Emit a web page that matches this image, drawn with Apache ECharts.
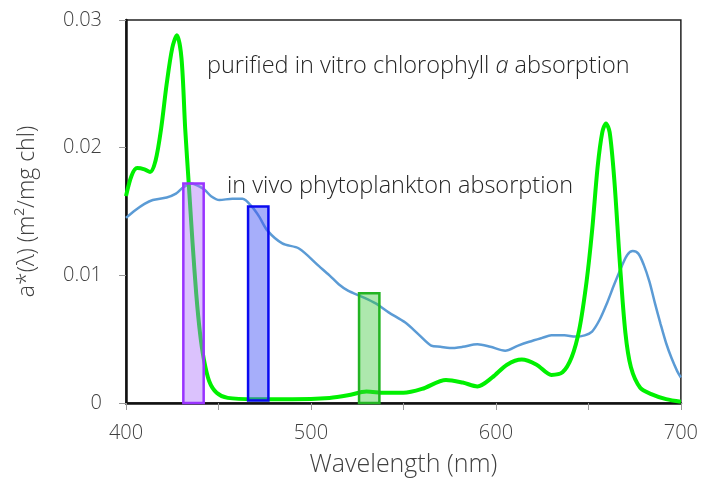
<!DOCTYPE html>
<html><head><meta charset="utf-8">
<script src="https://cdn.jsdelivr.net/npm/echarts@6/dist/echarts.min.js"></script>
<style>html,body{margin:0;padding:0;background:#fff}#c{width:701px;height:485px}</style>
</head><body><div id="c"></div>
<script>
// Wavelength (nm) / value pairs
const vitroWl  = [400,403,406,410,413,416,419,422,425,427.5,430,432,434,436,438,440,442,445,449,455,470,490,510,520,530,540,550,560,573,582,590,598,606,614,622,630,636,641,645,649,652,655,657.5,659.5,661.5,664,667,670,673,678,684,692,700];
const vitroVal = [0.0162,0.0178,0.0184,0.0183,0.0181,0.0190,0.0215,0.0250,0.0278,0.0288,0.0270,0.0215,0.0170,0.0125,0.0085,0.0055,0.0035,0.0017,0.0008,0.0004,0.0003,0.0003,0.0004,0.0006,0.0009,0.0008,0.0008,0.0011,0.0018,0.0016,0.0013,0.0020,0.0030,0.0034,0.0030,0.0022,0.0024,0.0036,0.0057,0.0095,0.0135,0.0185,0.0212,0.0219,0.0212,0.0175,0.0110,0.0055,0.0028,0.0012,0.0007,0.0003,0.0001];
const vivoWl  = [400,405,410,414.5,422,427,431,435.5,439,442.5,446,450.5,457.5,463,468.5,472,476.5,484.5,493.5,504.5,510,515,520,528,535,542,551,558,565,570,575,582,590,597,605,612,618,625,630,637,643,648,652,656,660,664,668,671,674,677,680,683,686,689,692,695,698,700];
const vivoVal = [0.0145,0.0151,0.0156,0.0159,0.0161,0.0164,0.0169,0.0172,0.0170,0.0167,0.0162,0.0159,0.0160,0.0160,0.0153,0.0146,0.0135,0.0125,0.0121,0.0107,0.0100,0.0093,0.0088,0.0083,0.0078,0.0071,0.0063,0.0054,0.0045,0.0044,0.0043,0.0044,0.0046,0.0044,0.0041,0.0045,0.0048,0.0051,0.0053,0.0053,0.0052,0.0053,0.0056,0.0065,0.0078,0.0093,0.0107,0.0116,0.0119,0.0117,0.0108,0.0095,0.0078,0.0062,0.0047,0.0035,0.0025,0.0020];
// Highlight bands: [startWl, endWl, bottom, top]
const bandPurple = [431, 442, 0, 0.0172];
const bandBlue   = [466, 477, 0.0002, 0.0154];
const bandGreen  = [526, 537, 0, 0.0086];
const yTicks = [0, 0.01, 0.02, 0.03];
const xTicks = [400, 500, 600, 700];

const FONT = '"Open Sans", "Noto Sans", sans-serif';
const chart = echarts.init(document.getElementById('c'));
const pairs = (a, b) => a.map((x, i) => [x, b[i]]);
const bands = [
  {v: bandPurple, fill: 'rgba(170,110,250,0.42)', stroke: '#9933ff'},
  {v: bandBlue, fill: 'rgba(70,85,245,0.48)', stroke: '#0a0af0'},
  {v: bandGreen, fill: 'rgba(60,200,60,0.42)', stroke: '#22b422'}
];
chart.setOption({
  animation: false,
  grid: {left: 126, right: 18, top: 20, bottom: 82, show: true, borderColor: '#222', borderWidth: 1.5, backgroundColor: 'transparent'},
  xAxis: {
    type: 'value', min: 400, max: 700, interval: 50,
    axisLine: {show: true, onZero: false, lineStyle: {color: '#111', width: 2.5}},
    axisTick: {show: true, length: 7, lineStyle: {color: '#999'}},
    splitLine: {show: false},
    axisLabel: {fontFamily: FONT, fontSize: 20, fontWeight: 300, color: '#404040', margin: 20,
      formatter: v => xTicks.includes(v) ? String(v) : ''},
    name: 'Wavelength (nm)', nameLocation: 'middle', nameGap: 49,
    nameTextStyle: {fontFamily: FONT, fontSize: 25, fontWeight: 300, color: '#404040'}
  },
  yAxis: {
    type: 'value', min: 0, max: 0.03, interval: 0.01,
    axisLine: {show: true, lineStyle: {color: '#111', width: 2.5}},
    axisTick: {show: true, length: 7, lineStyle: {color: '#999'}},
    splitLine: {show: false},
    axisLabel: {fontFamily: FONT, fontSize: 20, fontWeight: 300, color: '#404040', margin: 24,
      formatter: v => { const t = yTicks.find(k => Math.abs(k - v) < 1e-9); return t === undefined ? '' : String(t); }},
    name: 'a*(λ) (m²/mg chl)', nameLocation: 'middle', nameGap: 87, nameRotate: 90,
    nameTextStyle: {fontFamily: FONT, fontSize: 23, fontWeight: 300, color: '#404040'}
  },
  series: [
    {type: 'line', data: pairs(vivoWl, vivoVal), smooth: 0.3, showSymbol: false, z: 2,
      lineStyle: {color: '#5b9bd5', width: 2.5}},
    {type: 'line', data: pairs(vitroWl, vitroVal), smooth: 0.3, showSymbol: false, z: 3,
      lineStyle: {color: '#00f000', width: 4}},
    {type: 'custom', z: 5, data: bands.map((b, i) => [b.v[0], b.v[1], b.v[2], b.v[3], i]),
      renderItem: (params, api) => {
        const p0 = api.coord([api.value(0), api.value(3)]);
        const p1 = api.coord([api.value(1), api.value(2)]);
        const b = bands[api.value(4)];
        return {type: 'rect', shape: {x: p0[0], y: p0[1], width: p1[0] - p0[0], height: p1[1] - p0[1]},
          style: {fill: b.fill, stroke: b.stroke, lineWidth: 2.5}};
      }}
  ],
  graphic: [
    {type: 'text', left: 207, top: 54, z: 10, style: {
      text: '{n|purified in vitro chlorophyll }{i|a}{n| absorption}',
      rich: {n: {fontFamily: FONT, fontSize: 23.5, fontWeight: 300, fill: '#262626'}, i: {fontFamily: FONT, fontSize: 23.5, fontWeight: 300, fontStyle: 'italic', fill: '#262626'}}}},
    {type: 'text', left: 227, top: 174, z: 10, style: {
      text: 'in vivo phytoplankton absorption', fontFamily: FONT, fontSize: 23.5, fontWeight: 300, fill: '#262626'}}
  ]
});
</script></body></html>
